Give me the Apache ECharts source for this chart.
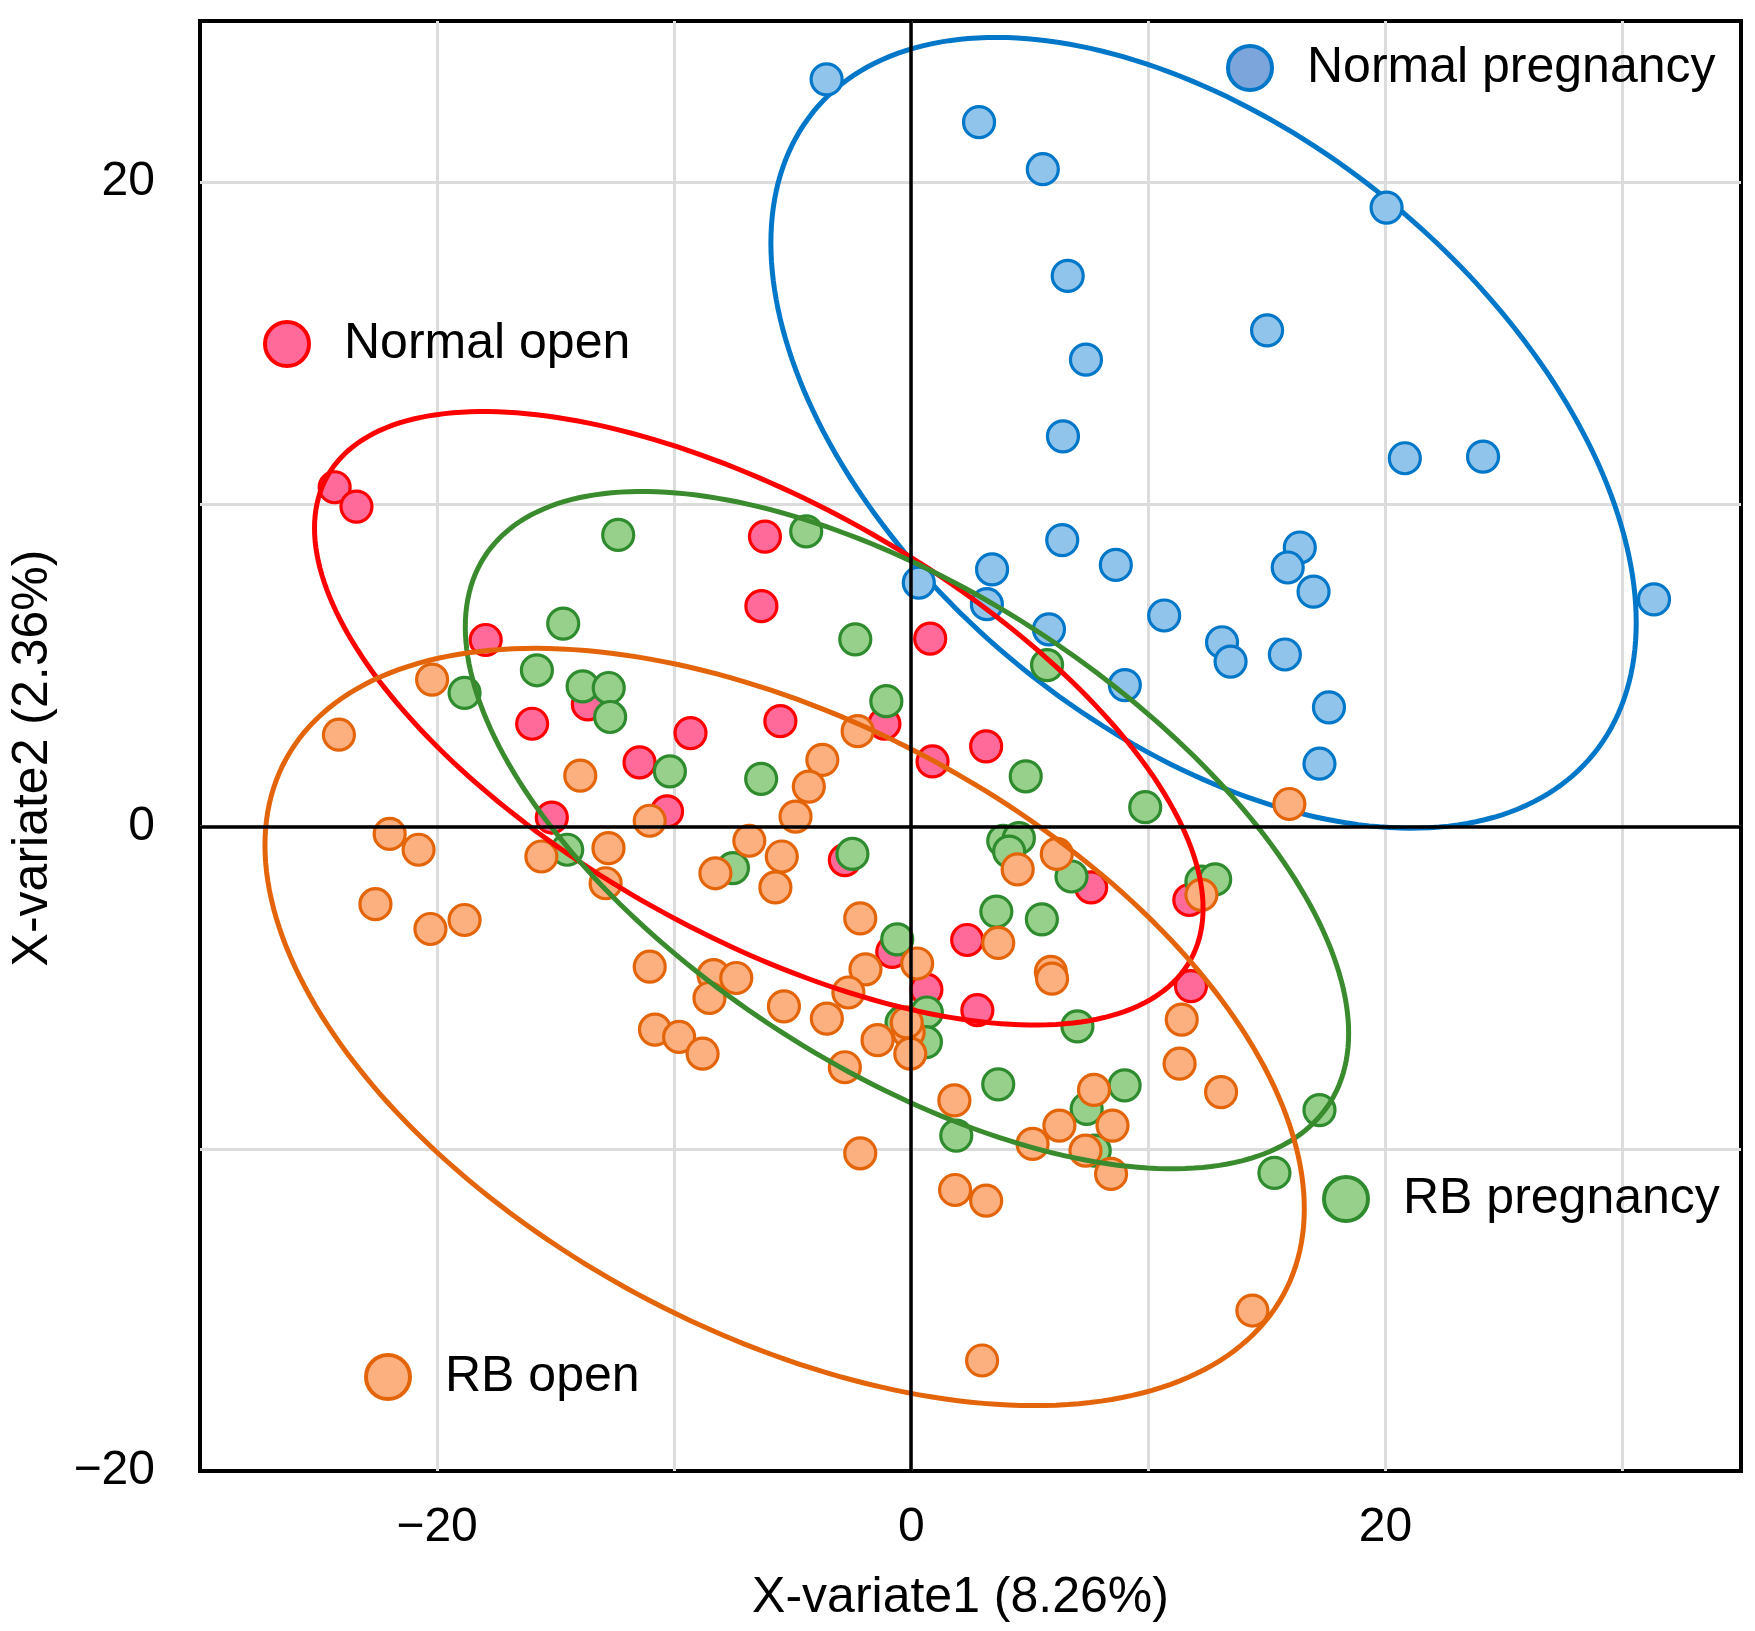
<!DOCTYPE html>
<html>
<head>
<meta charset="utf-8">
<title>Sample plot</title>
<script src="https://cdn.jsdelivr.net/npm/echarts@6/dist/echarts.min.js"></script>
<style>
html, body { margin: 0; padding: 0; background: #fff; }
#main { width: 1755px; height: 1631px; }
</style>
</head>
<body>
<div id="main"></div>
<script>
// group names
var groupNames = ['Normal pregnancy', 'Normal open', 'RB pregnancy', 'RB open'];

// sample scores [X-variate1, X-variate2]
var normalPregnancy = [
    [-3.57, 23.19], [2.86, 21.86], [5.55, 20.40], [20.05, 19.21], [6.60, 17.09],
    [15.01, 15.40], [7.37, 14.49], [6.40, 12.11], [20.82, 11.43], [24.12, 11.48],
    [6.37, 8.89], [16.39, 8.66], [8.63, 8.12], [15.88, 8.04], [3.41, 7.98],
    [0.32, 7.57], [16.97, 7.29], [31.33, 7.05], [3.19, 6.90], [10.67, 6.55],
    [5.81, 6.12], [13.11, 5.72], [13.47, 5.12], [15.76, 5.34], [9.01, 4.39],
    [17.62, 3.70], [17.22, 1.95]
];
var normalOpen = [
    [-24.32, 10.53], [-23.40, 9.93], [-6.17, 9.00], [-6.32, 6.84], [-17.95, 5.79],
    [0.80, 5.83], [-15.99, 3.19], [-13.64, 3.79], [-9.31, 2.90], [-5.52, 3.27],
    [-1.13, 3.19], [-11.46, 1.99], [0.90, 2.02], [3.16, 2.49], [-10.30, 0.47],
    [-15.16, 0.28], [-2.80, -1.04], [7.59, -1.89], [11.73, -2.28], [2.36, -3.52],
    [-0.80, -3.89], [0.64, -5.06], [2.79, -5.70], [11.80, -4.95]
];
var rbPregnancy = [
    [-12.36, 9.05], [-4.43, 9.16], [-14.68, 6.30], [-2.36, 5.81], [5.73, 5.01],
    [-15.79, 4.85], [-18.84, 4.15], [-13.86, 4.35], [-12.76, 4.30], [-12.70, 3.40],
    [-1.05, 3.89], [-10.18, 1.71], [-6.33, 1.48], [4.83, 1.56], [9.87, 0.60],
    [-14.51, -0.72], [-7.52, -1.29], [-2.48, -0.85], [3.88, -0.44], [4.54, -0.36],
    [4.13, -0.78], [6.76, -1.55], [12.24, -1.71], [12.82, -1.64], [3.59, -2.64],
    [5.51, -2.88], [-0.59, -3.50], [0.66, -5.77], [-0.41, -6.08], [0.62, -6.69],
    [7.01, -6.20], [3.67, -8.00], [9.00, -8.03], [7.40, -8.76], [1.90, -9.59],
    [7.74, -10.06], [17.22, -8.80], [15.32, -10.75]
];
var rbOpen = [
    [-20.21, 4.56], [-24.14, 2.85], [-13.96, 1.58], [-2.26, 2.96], [-3.75, 2.07],
    [-4.32, 1.24], [-22.00, -0.23], [-20.78, -0.72], [-22.60, -2.41], [-20.28, -3.18],
    [-18.84, -2.90], [-15.60, -0.93], [-12.77, -0.67], [-12.89, -1.76], [-11.03, 0.18],
    [-8.26, -1.45], [-4.88, 0.31], [-6.83, -0.44], [-5.46, -0.93], [-5.73, -1.89],
    [-2.15, -2.85], [-11.03, -4.35], [-8.34, -4.61], [-8.51, -5.32], [-7.38, -4.70],
    [-10.81, -6.30], [-9.79, -6.53], [-8.80, -7.05], [-1.93, -4.43], [0.25, -4.25],
    [-2.65, -5.15], [-5.37, -5.58], [-3.56, -5.96], [-1.42, -6.63], [-0.11, -6.38],
    [-0.19, -6.08], [-0.04, -7.05], [-2.80, -7.47], [-2.15, -10.14], [1.82, -8.50],
    [1.85, -11.28], [3.16, -11.61], [4.49, -1.33], [6.14, -0.85], [3.67, -3.61],
    [5.89, -4.51], [5.94, -4.72], [12.24, -2.12], [11.41, -5.99], [11.32, -7.36],
    [13.07, -8.24], [7.71, -8.17], [6.25, -9.28], [8.49, -9.28], [5.12, -9.85],
    [7.35, -10.06], [8.43, -10.78], [15.95, 0.70], [14.39, -15.02], [2.99, -16.57]
];

// confidence ellipses: centre, half extent along x and y, correlation
var ellipseCenter = [[12.33, 12.22], [-6.43, 3.36], [-0.18, -0.11], [-5.34, -6.22]];
var ellipseHalfX = [18.25, 18.74, 18.63, 21.92];
var ellipseHalfY = [12.27, 9.52, 10.51, 11.75];
var ellipseCorr = [-0.48, -0.62, -0.60, -0.48];

// tick labels shown on both axes
var labelTicks = [-20, 0, 20];

var strokeColors = ['#0077C8', '#FF0000', '#2E8B2E', '#E4640A'];
var fillColors = ['#90C4EA', '#FF6A9A', '#97D08B', '#FDB07F'];
var lineColors = ['#0077C8', '#FF0000', '#3A8A2E', '#E4640A'];

var fontName = '"Liberation Sans", Arial, sans-serif';

function tickFormatter(v) {
    if (labelTicks.indexOf(v) < 0) return '';
    if (v < 0) return '\u2212' + Math.abs(v);
    return String(v);
}

function pointSeries(i, data, z) {
    return {
        name: groupNames[i],
        type: 'scatter',
        data: data,
        symbol: 'circle',
        symbolSize: 31,
        z: z,
        itemStyle: {
            color: fillColors[i],
            borderColor: strokeColors[i],
            borderWidth: 3.2,
            opacity: 1
        },
        emphasis: { disabled: true }
    };
}

function ellipseSeries(i, z) {
    return {
        name: groupNames[i] + ' ellipse',
        type: 'custom',
        silent: true,
        z: z,
        data: [ellipseCenter[i]],
        renderItem: function (params, api) {
            var pts = [];
            var c = ellipseCorr[i];
            var s = Math.sqrt(1 - c * c);
            for (var k = 0; k <= 240; k++) {
                var t = k / 240 * 2 * Math.PI;
                var x = ellipseCenter[i][0] + ellipseHalfX[i] * Math.cos(t);
                var y = ellipseCenter[i][1] + ellipseHalfY[i] * (c * Math.cos(t) + s * Math.sin(t));
                pts.push(api.coord([x, y]));
            }
            return {
                type: 'polyline',
                shape: { points: pts },
                style: { stroke: lineColors[i], lineWidth: 5, fill: 'none' }
            };
        }
    };
}

function legendAt(item, left, top) {
    return {
        data: [item],
        left: left,
        top: top,
        padding: 0,
        icon: 'circle',
        itemWidth: 44,
        itemHeight: 44,
        selectedMode: false,
        itemStyle: { borderWidth: 4 },
        textStyle: {
            fontFamily: fontName,
            fontSize: 50,
            lineHeight: 50,
            color: '#000',
            padding: [0, 0, 0, 30]
        }
    };
}

var myChart = echarts.init(document.getElementById('main'));

var option = {
    backgroundColor: '#fff',
    animation: false,
    grid: {
        left: 200,
        right: 14,
        top: 21,
        bottom: 160,
        show: true,
        borderColor: '#000',
        borderWidth: 4,
        backgroundColor: 'rgba(0,0,0,0)'
    },
    legend: [
        legendAt({ name: 'Normal pregnancy', itemStyle: { color: '#7BA5DB' } }, 1226, 43),
        legendAt('Normal open', 263, 319),
        legendAt('RB pregnancy', 1322, 1174),
        legendAt('RB open', 364, 1352)
    ],
    xAxis: {
        type: 'value',
        min: -30,
        max: 35,
        interval: 10,
        name: 'X-variate1 (8.26%)',
        nameLocation: 'middle',
        nameGap: 102,
        nameTextStyle: {
            fontFamily: fontName,
            fontSize: 50,
            color: '#000',
            padding: [0, 20, 0, 0]
        },
        axisLine: { show: false },
        axisTick: { show: false },
        axisLabel: {
            margin: 33,
            fontFamily: fontName,
            fontSize: 48,
            color: '#000',
            formatter: tickFormatter
        },
        splitLine: {
            show: true,
            showMinLine: false,
            showMaxLine: false,
            lineStyle: { color: '#DCDCDC', width: 3 }
        }
    },
    yAxis: {
        type: 'value',
        min: -20,
        max: 25,
        interval: 10,
        name: 'X-variate2 (2.36%)',
        nameLocation: 'middle',
        nameGap: 142,
        nameTextStyle: {
            fontFamily: fontName,
            fontSize: 50,
            color: '#000',
            padding: [0, 24, 0, 0]
        },
        axisLine: { show: false },
        axisTick: { show: false },
        axisLabel: {
            margin: 45,
            fontFamily: fontName,
            fontSize: 48,
            color: '#000',
            formatter: tickFormatter
        },
        splitLine: {
            show: true,
            showMinLine: false,
            showMaxLine: false,
            lineStyle: { color: '#DCDCDC', width: 3 }
        }
    },
    series: [
        {
            // zero lines
            name: 'zero',
            type: 'scatter',
            data: [],
            z: 1,
            markLine: {
                silent: true,
                symbol: 'none',
                label: { show: false },
                lineStyle: { color: '#000', width: 3.5, type: 'solid' },
                data: [{ xAxis: 0 }, { yAxis: 0 }]
            }
        },
        ellipseSeries(0, 1),
        pointSeries(0, normalPregnancy, 2),
        pointSeries(1, normalOpen, 2),
        pointSeries(2, rbPregnancy, 2),
        pointSeries(3, rbOpen, 2),
        ellipseSeries(1, 3),
        ellipseSeries(2, 3),
        ellipseSeries(3, 3)
    ]
};
myChart.setOption(option);
</script>
</body>
</html>
